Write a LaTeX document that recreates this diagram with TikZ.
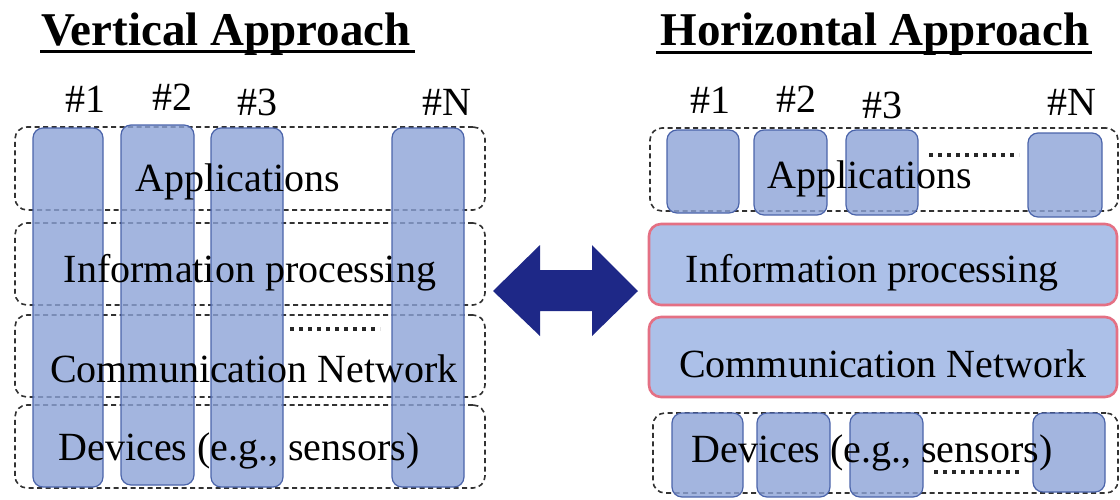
\documentclass[tikz,border=0pt]{standalone}
\usepackage{fontspec}
\setmainfont{Liberation Serif}
\usetikzlibrary{fit}
\definecolor{colfill}{RGB}{140,163,215}
\definecolor{colline}{RGB}{75,100,170}
\definecolor{layerfill}{RGB}{172,192,232}
\definecolor{layerline}{RGB}{228,112,132}
\definecolor{arrowblue}{RGB}{30,40,135}
\definecolor{dashgray}{RGB}{50,50,50}
\tikzset{
  body/.style={font=\fontsize{40}{48}\selectfont, inner sep=0pt, anchor=base},
  title/.style={font=\bfseries\fontsize{47}{56}\selectfont, inner sep=0pt, anchor=base},
  layerbox/.style={draw=dashgray, line width=1.6pt, dash pattern=on 5pt off 3.5pt,
                   rounded corners=12pt, inner sep=0pt},
  stackbox/.style={draw=colline, line width=1.2pt, fill=colfill, fill opacity=0.8,
                   rounded corners=10pt, inner sep=0pt},
  sharedbox/.style={draw=layerline, line width=2.6pt, fill=layerfill,
                    rounded corners=12pt, inner sep=0pt},
  ellipsis/.style={line width=4pt, dash pattern=on 4pt off 5pt, draw=black!85},
  ruleline/.style={line width=3pt},
}
\begin{document}
\begin{tikzpicture}[x=1pt, y=-1pt]
\useasboundingbox (0,0) rectangle (1120,499);

% ---------- titles ----------
\node[title] (tv) at (226,45) {Vertical Approach};
\draw[ruleline] (40,51) -- (415,51);
\node[title] (th) at (875,45) {Horizontal Approach};
\draw[ruleline] (656,52) -- (1092,52);

% ---------- vertical approach: layers ----------
\node[layerbox, fit={(15,127) (485,210)}] (va) {};
\node[layerbox, fit={(15,223) (485,305)}] (vi) {};
\node[layerbox, fit={(15,315) (485,397)}] (vc) {};
\node[layerbox, fit={(15,405) (485,488)}] (vd) {};

% ---------- vertical approach: silos ----------
\node[stackbox, fit={(33,128) (103,487)}] (v1) {};
\node[stackbox, fit={(121,125) (194,485)}] (v2) {};
\node[stackbox, fit={(211,128) (283,487)}] (v3) {};
\node[stackbox, fit={(392,128) (464,487)}] (vn) {};

\node[body] (lv1) at (85,112) {\#1};
\node[body] (lv2) at (172,110) {\#2};
\node[body] (lv3) at (257,115) {\#3};
\node[body] (lvn) at (447,115) {\#N};

\draw[ellipsis] (290,329) -- (380,329);

\node[body] (tva) at (238,191) {Applications};
\node[body] (tvi) at (250,282) {Information processing};
\node[body] (tvc) at (254,382) {Communication Network};
\node[body] (tvd) at (239,460) {Devices (e.g., sensors)};

% ---------- double arrow ----------
\fill[arrowblue] (493,291) -- (540,245) -- (540,270) -- (592,270) -- (592,245)
  -- (638,291) -- (592,336) -- (592,311) -- (540,311) -- (540,336) -- cycle;

% ---------- horizontal approach ----------
\node[layerbox, fit={(650,128) (1118,211)}] (ha) {};
\node[stackbox, fit={(667,130) (739,213)}] (ha1) {};
\node[stackbox, fit={(754,130) (827,215)}] (ha2) {};
\node[stackbox, fit={(846,130) (918,215)}] (ha3) {};
\node[stackbox, fit={(1028,133) (1102,217)}] (han) {};

\node[body] (lh1) at (710,113) {\#1};
\node[body] (lh2) at (796,112) {\#2};
\node[body] (lh3) at (882,118) {\#3};
\node[body] (lhn) at (1072,115) {\#N};

\draw[ellipsis] (929,155) -- (1019,155);
\node[body] (tha) at (870,188) {Applications};

\node[sharedbox, fit={(649,224) (1117,305)}] (hi) {};
\node[body] (thi) at (872,282) {Information processing};
\node[sharedbox, fit={(649,317) (1117,397)}] (hc) {};
\node[body] (thc) at (883,377) {Communication Network};

\node[layerbox, fit={(653,413) (1118,493)}] (hd) {};
\node[stackbox, fit={(672,413) (743,497)}] (hd1) {};
\node[stackbox, fit={(757,413) (830,497)}] (hd2) {};
\node[stackbox, fit={(850,413) (923,497)}] (hd3) {};
\node[stackbox, fit={(1033,413) (1105,492)}] (hdn) {};

\draw[ellipsis] (934,472) -- (1022,472);
\node[body] (thd) at (872,462) {Devices (e.g., sensors)};
\end{tikzpicture}
\end{document}
